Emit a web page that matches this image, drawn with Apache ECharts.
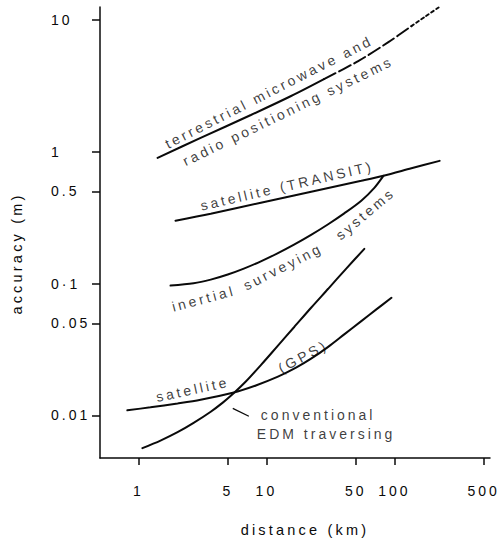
<!DOCTYPE html>
<html>
<head>
<meta charset="utf-8">
<script src="https://cdn.jsdelivr.net/npm/echarts@6/dist/echarts.min.js"></script>
<style>
html, body { margin: 0; padding: 0; background: #ffffff; }
#chart { width: 500px; height: 542px; }
#chart text { letter-spacing: 3px; }
#chart text[style*="14.5px"] { letter-spacing: 3.2px; }
</style>
</head>
<body>
<div id="chart"></div>
<script>
// ---- tick values and labels ----
const xTicks = [1, 5, 10, 50, 100, 500];
const xTickLabels = ['1', '5', '10', '50', '100', '500'];
const yTicks = [0.01, 0.05, 0.1, 0.5, 1, 10];
const yTickLabels = ['0.01', '0.05', '0·1', '0.5', '1', '10'];

// ---- curves: [distance km, accuracy m] ----
const terrestrialSolid  = [[1.41, 0.898], [3.06, 1.272], [7.56, 1.897], [15.6, 2.644], [28.2, 3.553]];
const terrestrialDashed = [[28.2, 3.553], [52.2, 4.86], [89.9, 6.77], [136, 8.95]];
const terrestrialDotted = [[136, 8.95], [175, 10.6], [222, 12.4]];
const transit  = [[1.948, 0.2996], [3.67, 0.3385], [9.05, 0.410], [22.4, 0.497], [55.2, 0.601], [82.2, 0.656], [136, 0.748], [226, 0.852]];
const inertial = [[1.780, 0.0966], [2.697, 0.1005], [3.67, 0.1072], [4.99, 0.1172], [6.66, 0.1299], [9.05, 0.1475], [12.31, 0.1701], [16.44, 0.1972], [22.35, 0.2339], [30.4, 0.2818], [40.6, 0.3407], [55.2, 0.4251], [69.8, 0.5323], [82.2, 0.656]];
const edm = [[1.073, 0.00565], [1.485, 0.00645], [2.020, 0.00747], [2.697, 0.00879], [3.67, 0.01068], [4.56, 0.01252], [5.46, 0.01454], [6.90, 0.01808], [9.05, 0.02410], [12.31, 0.03385], [16.44, 0.04663], [22.35, 0.06559], [30.4, 0.0913], [42.1, 0.1299], [58.3, 0.1833]];
const gps = [[0.818, 0.01095], [1.240, 0.01153], [2.020, 0.01232], [3.06, 0.01314], [5.46, 0.01485], [8.27, 0.01689], [12.31, 0.01969], [17.05, 0.02303], [22.35, 0.02694], [30.4, 0.03315], [40.6, 0.04121], [55.2, 0.05194], [72.4, 0.06370], [95.0, 0.0781]];
const leader = [[5.46, 0.01133], [7.29, 0.00986]];

// ---- curve annotations: [distance, accuracy, text, rotation, align] ----
const annotationTexts = [
  [10.46, 2.834, 'terrestrial microwave and', 27, 'center'],
  [14.75, 2.035, 'radio positioning systems', 26, 'center'],
  [14.49, 0.551, 'satellite (TRANSIT)', 13, 'center'],
  [3.23, 0.0770, 'inertial', 15, 'center'],
  [13.48, 0.1345, 'surveying', 27, 'center'],
  [59.3, 0.3385, 'systems', 40, 'center'],
  [2.65, 0.01578, 'satellite', 12, 'center'],
  [19.34, 0.02804, '(GPS)', 28, 'center'],
  [9.05, 0.01003, 'conventional', 0, 'left'],
  [8.42, 0.00721, 'EDM traversing', 0, 'left']
];

const FONT = 'Liberation Sans';
const INK = '#0a0a0a';

function labelFor(ticks, labels, v) {
  let best = 0, bd = Infinity;
  for (let i = 0; i < ticks.length; i++) {
    const d = Math.abs(Math.log10(ticks[i]) - Math.log10(v));
    if (d < bd) { bd = d; best = i; }
  }
  return labels[best];
}

function curve(data, type) {
  return {
    type: 'line', data: data, smooth: 0.3, showSymbol: false, symbol: 'none',
    silent: true, clip: false,
    lineStyle: { color: INK, width: 2, type: type || 'solid', cap: 'round' }
  };
}

const chart = echarts.init(document.getElementById('chart'), null, { renderer: 'svg' });
chart.setOption({
  animation: false,
  backgroundColor: '#ffffff',
  grid: { left: 100, right: 10, top: 7, bottom: 83, containLabel: false },
  xAxis: {
    type: 'log', logBase: 10, min: 0.5, max: 560,
    name: 'distance (km)', nameLocation: 'middle', nameGap: 64,
    nameTextStyle: { fontFamily: FONT, fontSize: 14.5, color: INK, padding: [0, 0, 0, 20] },
    axisLine: { show: true, lineStyle: { color: INK, width: 1.5 } },
    axisTick: { show: true, customValues: xTicks, length: 7, inside: false, lineStyle: { color: INK, width: 1.5 } },
    axisLabel: {
      customValues: xTicks, margin: 26, fontFamily: FONT, fontSize: 14, color: INK,
      formatter: v => labelFor(xTicks, xTickLabels, v)
    },
    splitLine: { show: false }, minorTick: { show: false }
  },
  yAxis: {
    type: 'log', logBase: 10, min: 0.00476, max: 12.5,
    name: 'accuracy (m)', nameLocation: 'middle', nameGap: 76,
    nameTextStyle: { fontFamily: FONT, fontSize: 14.5, color: INK, padding: [0, 42, 0, 0] },
    axisLine: { show: true, lineStyle: { color: INK, width: 1.5 } },
    axisTick: { show: true, customValues: yTicks, length: 8, inside: false, lineStyle: { color: INK, width: 1.5 } },
    axisLabel: {
      customValues: yTicks, margin: 49, align: 'left', fontFamily: FONT, fontSize: 14, color: INK,
      formatter: v => labelFor(yTicks, yTickLabels, v)
    },
    splitLine: { show: false }, minorTick: { show: false }
  },
  series: [
    curve(terrestrialSolid),
    curve(terrestrialDashed, [13, 4]),
    curve(terrestrialDotted, [3, 3]),
    curve(transit),
    curve(inertial),
    curve(edm),
    curve(gps),
    {
      type: 'line', data: leader, showSymbol: false, symbol: 'none', silent: true,
      lineStyle: { color: INK, width: 1.3 }
    },
    {
      type: 'scatter', symbolSize: 0, silent: true,
      data: annotationTexts.map(a => ({
        value: [a[0], a[1]],
        label: { rotate: a[3], align: a[4] }
      })),
      label: {
        show: true, position: [0, 0], verticalAlign: 'middle',
        fontFamily: FONT, fontSize: 14, color: INK,
        formatter: p => annotationTexts[p.dataIndex][2]
      }
    }
  ]
});
</script>
</body>
</html>
